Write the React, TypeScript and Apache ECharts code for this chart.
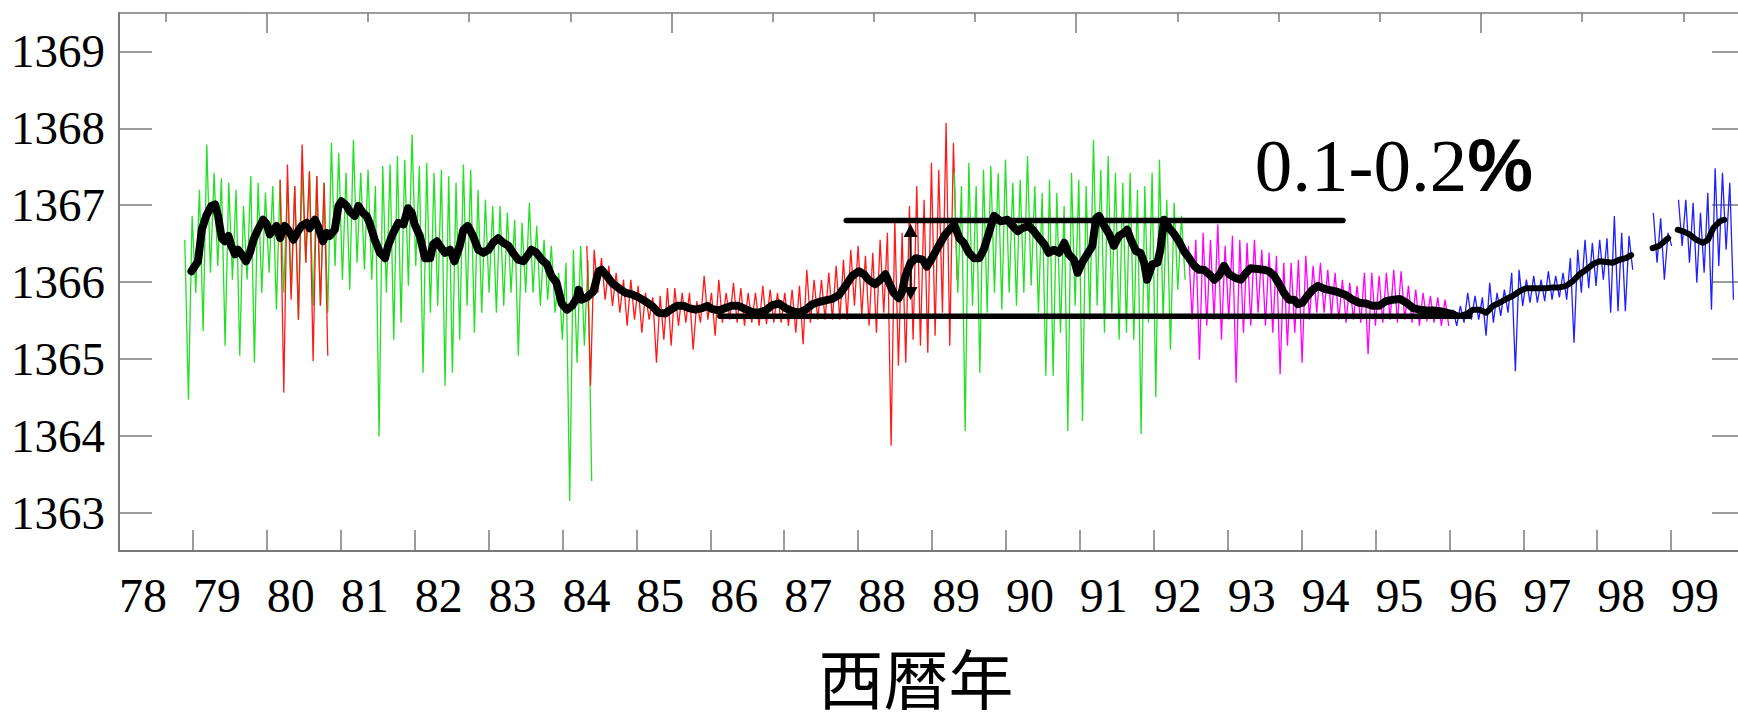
import React, { useEffect, useRef } from "react";
import * as echarts from "echarts";

// ---- axis categories / ticks ----
const YEAR_LABELS = [78, 79, 80, 81, 82, 83, 84, 85, 86, 87, 88, 89, 90, 91, 92, 93, 94, 95, 96, 97, 98, 99];
const Y_TICKS = [1363, 1364, 1365, 1366, 1367, 1368, 1369];
// top axis: days since 1980-01-01, every 500 days (long every 2000)
const TOP_TICK_DAYS_SHORT = [-500, 500, 1000, 1500, 2500, 3000, 3500, 4500, 5000, 5500, 6500, 7000];
const TOP_TICK_DAYS_LONG = [0, 2000, 4000, 6000];

// ---- daily irradiance samples (W/m^2), sampled every SAMPLE_STEP years as high/low pairs ----
const SAMPLE_STEP = 0.0496;

const green1Start = 78.89;
const green1 = [
  1366.55, 1364.47, 1366.86, 1365.86, 1367.20, 1365.36, 1367.79, 1366.12, 1367.42, 1366.21,
  1367.35, 1365.17, 1367.29, 1366.03, 1367.20, 1365.04, 1366.99, 1366.03, 1367.38, 1364.95,
  1367.29, 1365.86, 1367.16, 1366.12, 1367.25, 1365.64, 1367.33, 1365.86, 1367.29, 1365.86,
  1367.25, 1365.51, 1367.42, 1366.25, 1367.44, 1365.69, 1367.38, 1365.69, 1367.29, 1365.60,
  1367.81, 1366.21, 1367.68, 1366.03, 1367.42, 1365.90, 1367.85, 1366.25, 1367.42, 1366.16,
  1367.46, 1366.03, 1367.25, 1363.99, 1367.51, 1365.86, 1367.53, 1365.25, 1367.64, 1365.47,
  1367.59, 1365.95, 1367.92, 1366.21, 1367.51, 1364.82, 1367.55, 1365.60, 1367.42, 1365.69,
  1367.46, 1364.65, 1367.38, 1364.82, 1367.29, 1365.25, 1367.53, 1365.69, 1367.46, 1365.34,
  1367.20, 1365.60, 1367.07, 1365.86, 1366.99, 1365.60, 1366.99, 1365.69, 1366.90, 1365.86,
  1366.81, 1365.04, 1366.77, 1365.86, 1367.03, 1365.86, 1366.73, 1365.69, 1366.55, 1365.77,
  1366.47, 1365.60, 1366.12, 1365.25, 1366.25, 1363.15, 1366.42, 1364.95, 1366.47, 1365.17,
  1366.29, 1363.41,
];

const red1Start = 80.18;
const red1 = [
  1367.33, 1364.56, 1367.53, 1365.77, 1367.25, 1365.51, 1367.79, 1366.25, 1367.44, 1364.97,
  1367.38, 1365.69, 1367.29, 1365.04,
];

const red2Start = 84.33;
const red2 = [
  1366.47, 1364.65, 1366.42, 1365.86, 1366.31, 1365.77, 1366.21, 1365.69, 1366.12, 1365.60,
  1366.03, 1365.43, 1366.03, 1365.51, 1365.95, 1365.34, 1365.86, 1365.51, 1365.80, 1364.95,
  1365.82, 1365.25, 1365.92, 1365.17, 1365.92, 1365.43, 1365.86, 1365.47, 1365.86, 1365.12,
  1365.75, 1365.47, 1366.08, 1365.51, 1365.86, 1365.30, 1366.03, 1365.47, 1365.86, 1365.51,
  1365.99, 1365.47, 1365.92, 1365.43, 1365.86, 1365.47, 1365.86, 1365.43, 1365.95, 1365.45,
  1365.90, 1365.47, 1365.86, 1365.47, 1365.86, 1365.43, 1365.90, 1365.34, 1365.95, 1365.19,
  1366.16, 1365.47, 1366.03, 1365.51, 1366.03, 1365.51, 1366.12, 1365.51, 1366.21, 1365.51,
  1366.29, 1365.51, 1366.42, 1365.69, 1366.47, 1365.56, 1366.34, 1365.43, 1366.38, 1365.34,
  1366.55, 1365.60, 1366.64, 1363.87, 1366.81, 1364.91, 1366.64, 1364.95, 1366.99, 1365.25,
  1367.25, 1365.17, 1367.07, 1365.08, 1367.55, 1365.30, 1367.46, 1365.60, 1368.07, 1365.17,
  1367.81, 1366.03,
];

const green2Start = 89.30;
const green2 = [
  1367.42, 1365.86, 1367.25, 1364.06, 1367.55, 1365.69, 1367.25, 1364.82, 1367.46, 1365.60,
  1367.51, 1365.86, 1367.42, 1365.64, 1367.59, 1365.86, 1367.29, 1365.69, 1367.33, 1365.86,
  1367.64, 1365.95, 1367.25, 1365.60, 1367.16, 1364.78, 1367.33, 1364.78, 1367.16, 1365.34,
  1366.99, 1364.06, 1367.42, 1365.69, 1367.33, 1364.19, 1367.25, 1365.51, 1367.85, 1365.69,
  1367.46, 1365.34, 1367.64, 1365.60, 1367.42, 1365.25, 1367.29, 1365.34, 1367.42, 1365.25,
  1367.20, 1364.02, 1367.25, 1365.47, 1367.42, 1364.50, 1367.59, 1365.51, 1367.07, 1365.12,
  1367.03, 1365.90, 1366.86, 1366.03,
];

const magentaStart = 92.47;
const magenta = [
  1366.47, 1365.51, 1366.55, 1364.99, 1366.64, 1365.43, 1366.55, 1365.51, 1366.75, 1365.25,
  1366.47, 1365.51, 1366.60, 1364.69, 1366.55, 1365.34, 1366.51, 1365.43, 1366.55, 1365.60,
  1366.42, 1365.43, 1366.38, 1365.34, 1366.34, 1364.80, 1366.25, 1365.17, 1366.25, 1365.34,
  1366.29, 1364.95, 1366.34, 1365.51, 1366.21, 1365.60, 1366.25, 1365.60, 1366.16, 1365.56,
  1366.12, 1365.51, 1366.03, 1365.47, 1365.99, 1365.51, 1365.95, 1365.47, 1366.12, 1365.06,
  1366.12, 1365.43, 1366.08, 1365.47, 1366.12, 1365.51, 1366.16, 1365.47, 1366.14, 1365.51,
  1365.95, 1365.47, 1365.90, 1365.43, 1365.86, 1365.49, 1365.82, 1365.47, 1365.80, 1365.43,
  1365.77, 1365.43,
];

const blue1Start = 96.05;
const blue1 = [
  1365.64, 1365.43, 1365.69, 1365.47, 1365.86, 1365.51, 1365.82, 1365.51, 1365.80, 1365.30,
  1365.99, 1365.47, 1365.86, 1365.56, 1365.90, 1365.60, 1366.12, 1364.84, 1366.16, 1365.69,
  1366.03, 1365.73, 1366.08, 1365.73, 1366.03, 1365.75, 1366.14, 1365.77, 1366.08, 1365.80,
  1366.12, 1365.77, 1366.31, 1365.21, 1366.42, 1365.86, 1366.55, 1365.92, 1366.51, 1365.95,
  1366.55, 1366.03, 1366.57, 1365.60, 1366.86, 1365.62, 1366.64, 1365.62, 1366.60, 1366.16,
];
const blue2Start = 98.76;
const blue2 = [1366.90, 1366.25, 1366.83, 1366.03, 1366.64, 1366.47];
const blue3Start = 99.10;
const blue3 = [
  1367.07, 1366.47, 1367.07, 1366.25, 1367.03, 1365.99, 1366.90, 1366.12, 1367.16, 1365.64,
  1367.48, 1366.21, 1367.42, 1366.42, 1367.29, 1365.77,
];

// ---- 81-day running mean [year, W/m^2] ----
const meanA = [
  [78.98, 1366.14], [79.07, 1366.27], [79.12, 1366.68], [79.18, 1366.86], [79.25, 1366.99], [79.30, 1367.01],
  [79.34, 1366.86], [79.39, 1366.57], [79.43, 1366.53], [79.48, 1366.60], [79.52, 1366.47], [79.57, 1366.36],
  [79.61, 1366.42], [79.66, 1366.36], [79.72, 1366.27], [79.77, 1366.38], [79.82, 1366.55], [79.88, 1366.68],
  [79.95, 1366.81], [80.00, 1366.75], [80.04, 1366.62], [80.09, 1366.68], [80.13, 1366.73], [80.18, 1366.57],
  [80.24, 1366.73], [80.29, 1366.68], [80.36, 1366.55], [80.42, 1366.66], [80.47, 1366.73], [80.54, 1366.77],
  [80.58, 1366.70], [80.65, 1366.81], [80.69, 1366.73], [80.76, 1366.53], [80.81, 1366.64], [80.85, 1366.60],
  [80.92, 1366.68], [80.97, 1366.99], [81.01, 1367.05], [81.08, 1366.99], [81.12, 1366.92], [81.19, 1366.86],
  [81.24, 1366.99], [81.30, 1366.90], [81.35, 1366.86], [81.39, 1366.77], [81.46, 1366.55], [81.53, 1366.38],
  [81.60, 1366.31], [81.64, 1366.47], [81.71, 1366.64], [81.78, 1366.77], [81.85, 1366.75], [81.91, 1366.96],
  [81.96, 1366.90], [82.00, 1366.75], [82.07, 1366.60], [82.14, 1366.31], [82.21, 1366.31], [82.25, 1366.49],
  [82.30, 1366.53], [82.34, 1366.47], [82.41, 1366.38], [82.48, 1366.42], [82.54, 1366.27], [82.61, 1366.47],
  [82.66, 1366.68], [82.72, 1366.73], [82.79, 1366.60], [82.86, 1366.42], [82.93, 1366.38], [83.00, 1366.42],
  [83.06, 1366.51], [83.13, 1366.57], [83.20, 1366.51], [83.27, 1366.47], [83.33, 1366.38], [83.40, 1366.29],
  [83.47, 1366.27], [83.54, 1366.36], [83.58, 1366.42], [83.65, 1366.38], [83.72, 1366.29], [83.79, 1366.23],
  [83.85, 1366.08], [83.92, 1365.99], [83.99, 1365.72], [84.06, 1365.64], [84.13, 1365.69], [84.20, 1365.80],
  [84.22, 1365.90], [84.26, 1365.77], [84.33, 1365.80], [84.42, 1365.88], [84.49, 1366.14], [84.53, 1366.16],
  [84.60, 1366.08], [84.67, 1365.99], [84.76, 1365.92], [84.85, 1365.86], [84.94, 1365.84], [85.03, 1365.80],
  [85.12, 1365.75], [85.21, 1365.69], [85.30, 1365.60], [85.39, 1365.59], [85.46, 1365.64], [85.55, 1365.69],
  [85.64, 1365.69], [85.71, 1365.66], [85.80, 1365.64], [85.89, 1365.66], [85.96, 1365.69], [86.02, 1365.65],
  [86.11, 1365.63], [86.20, 1365.66], [86.29, 1365.69], [86.38, 1365.69], [86.47, 1365.65], [86.56, 1365.61],
  [86.65, 1365.60], [86.75, 1365.63], [86.84, 1365.70], [86.93, 1365.72], [87.02, 1365.66], [87.11, 1365.62],
  [87.20, 1365.60], [87.29, 1365.64], [87.38, 1365.71], [87.47, 1365.74], [87.56, 1365.76], [87.65, 1365.78],
  [87.74, 1365.83], [87.83, 1365.95], [87.92, 1366.08], [88.01, 1366.14], [88.08, 1366.10], [88.14, 1366.03],
  [88.23, 1365.97], [88.30, 1366.03], [88.37, 1366.10], [88.41, 1366.01], [88.48, 1365.86], [88.55, 1365.79],
  [88.59, 1365.86], [88.64, 1366.08], [88.71, 1366.25], [88.78, 1366.31], [88.87, 1366.29], [88.93, 1366.20],
  [89.00, 1366.31], [89.09, 1366.47], [89.18, 1366.62], [89.30, 1366.75], [89.37, 1366.57], [89.43, 1366.51],
  [89.50, 1366.38], [89.57, 1366.31], [89.64, 1366.31], [89.70, 1366.42], [89.77, 1366.64], [89.84, 1366.86],
  [89.93, 1366.79], [90.02, 1366.81], [90.09, 1366.73], [90.16, 1366.66], [90.22, 1366.70], [90.31, 1366.73],
  [90.38, 1366.66], [90.45, 1366.57], [90.52, 1366.49], [90.58, 1366.38], [90.65, 1366.42], [90.72, 1366.38],
  [90.79, 1366.51], [90.85, 1366.36], [90.92, 1366.29], [90.97, 1366.12], [91.03, 1366.25], [91.10, 1366.36],
  [91.17, 1366.47], [91.22, 1366.83], [91.26, 1366.86], [91.33, 1366.73], [91.40, 1366.62], [91.46, 1366.47],
  [91.53, 1366.60], [91.60, 1366.64], [91.64, 1366.68], [91.69, 1366.55], [91.76, 1366.40], [91.82, 1366.38],
  [91.87, 1366.25], [91.91, 1366.03], [91.98, 1366.23], [92.05, 1366.25], [92.09, 1366.42], [92.14, 1366.81],
  [92.21, 1366.70], [92.28, 1366.62], [92.34, 1366.53], [92.41, 1366.40], [92.48, 1366.31], [92.55, 1366.21],
  [92.61, 1366.16], [92.68, 1366.16], [92.75, 1366.10], [92.82, 1366.03], [92.88, 1366.08], [92.95, 1366.21],
  [93.02, 1366.10], [93.11, 1366.05], [93.18, 1366.03], [93.25, 1366.12], [93.31, 1366.18], [93.40, 1366.17],
  [93.49, 1366.16], [93.56, 1366.14], [93.63, 1366.08], [93.70, 1365.97], [93.76, 1365.86], [93.83, 1365.77],
  [93.90, 1365.77], [93.95, 1365.71], [94.01, 1365.73], [94.08, 1365.82], [94.15, 1365.90], [94.22, 1365.95],
  [94.31, 1365.91], [94.40, 1365.89], [94.49, 1365.87], [94.60, 1365.83], [94.69, 1365.77], [94.78, 1365.73],
  [94.87, 1365.72], [94.96, 1365.69], [95.05, 1365.69], [95.14, 1365.75], [95.24, 1365.77], [95.33, 1365.78],
  [95.42, 1365.73], [95.51, 1365.66], [95.60, 1365.64], [95.69, 1365.63], [95.78, 1365.63], [95.87, 1365.62],
  [95.96, 1365.60], [96.05, 1365.58],
];
const meanB1 = [
  [96.05, 1365.58], [96.14, 1365.56], [96.23, 1365.58], [96.32, 1365.64], [96.41, 1365.64], [96.50, 1365.60],
  [96.59, 1365.69], [96.68, 1365.73], [96.77, 1365.78], [96.86, 1365.82], [96.95, 1365.88], [97.04, 1365.92],
  [97.13, 1365.92], [97.22, 1365.92], [97.31, 1365.92], [97.40, 1365.93], [97.49, 1365.93], [97.58, 1365.95],
  [97.67, 1366.01], [97.76, 1366.10], [97.85, 1366.16], [97.94, 1366.23], [98.03, 1366.27], [98.12, 1366.26],
  [98.21, 1366.25], [98.30, 1366.29], [98.39, 1366.31], [98.46, 1366.35],
];
const meanB2 = [[98.75, 1366.44], [98.84, 1366.47], [98.91, 1366.53], [98.96, 1366.57]];
const meanB3 = [
  [99.09, 1366.68], [99.16, 1366.66], [99.25, 1366.62], [99.34, 1366.55], [99.43, 1366.51], [99.50, 1366.55],
  [99.57, 1366.70], [99.66, 1366.79], [99.72, 1366.81],
];

// ---- annotation lines ----
const upperLevel = [[87.84, 1366.80], [94.56, 1366.80]];
const lowerLevel = [[86.13, 1365.555], [96.27, 1365.555]];
const arrowEnds = [[88.71, 1366.67], [88.71, 1365.85]];
const annotationText = "0.1-0.2";
const annotationPos = [95.25, 1367.51];
const xAxisTitle = "西暦年";

const GREEN = "#22e022";
const RED = "#ff1a1a";
const MAGENTA = "#ff00ff";
const BLUE = "#1f1fff";
const AXIS_GREY = "#7a7a7a";
const SERIF = '"Liberation Serif", "Times New Roman", serif';

const sampled = (start: number, vals: number[]) =>
  vals.map((v, i) => [Number((start + i * SAMPLE_STEP).toFixed(4)), v]);

const dayToYear = (d: number) => 80 + d / 365.25;

export default function App() {
  const ref = useRef<HTMLDivElement>(null);
  useEffect(() => {
    if (!ref.current) return;
    const chart = echarts.init(ref.current, undefined, { renderer: "svg" });
    const noise = (name: string, color: string, data: number[][]) => ({
      name,
      type: "line",
      data,
      symbol: "none",
      silent: true,
      lineStyle: { color, width: 1.3 },
      z: 2,
    });
    const black = (name: string, data: number[][], width: number) => ({
      name,
      type: "line",
      data,
      symbol: "none",
      silent: true,
      lineStyle: { color: "#000", width, join: "round", cap: "round" },
      z: 4,
    });
    const option: any = {
      animation: false,
      backgroundColor: "#fff",
      grid: { left: 119, top: 13, right: 15, bottom: 171, containLabel: false, outerBoundsMode: "none" },
      xAxis: [
        {
          type: "value",
          min: 78,
          max: 100,
          position: "bottom",
          axisLine: { show: true, lineStyle: { color: AXIS_GREY, width: 2 } },
          axisTick: { show: true, inside: true, length: 21, customValues: YEAR_LABELS, lineStyle: { color: AXIS_GREY, width: 1.5 } },
          axisLabel: {
            show: true,
            customValues: YEAR_LABELS,
            align: "left",
            margin: 20,
            fontSize: 48,
            fontFamily: SERIF,
            color: "#000",
            formatter: (v: number) => String(v),
          },
          splitLine: { show: false },
          name: xAxisTitle,
          nameLocation: "middle",
          nameGap: 92,
          nameTextStyle: {
            fontSize: 65,
            lineHeight: 65,
            fontFamily: '"Noto Sans CJK JP", sans-serif',
            color: "#000",
            padding: [0, 32, 0, 0],
          },
        },
        {
          type: "value",
          min: 78,
          max: 100,
          position: "top",
          axisLine: { show: true, lineStyle: { color: AXIS_GREY, width: 1.5 } },
          axisTick: { show: true, inside: true, length: 9, customValues: TOP_TICK_DAYS_SHORT.map(dayToYear), lineStyle: { color: AXIS_GREY, width: 1.5 } },
          axisLabel: { show: false },
          splitLine: { show: false },
        },
        {
          type: "value",
          min: 78,
          max: 100,
          position: "top",
          axisLine: { show: false },
          axisTick: { show: true, inside: true, length: 20, customValues: TOP_TICK_DAYS_LONG.map(dayToYear), lineStyle: { color: AXIS_GREY, width: 1.5 } },
          axisLabel: { show: false },
          splitLine: { show: false },
        },
      ],
      yAxis: [
        {
          type: "value",
          min: 1362.5,
          max: 1369.5,
          position: "left",
          axisLine: { show: true, lineStyle: { color: AXIS_GREY, width: 2 } },
          axisTick: { show: true, inside: true, length: 33, customValues: Y_TICKS, lineStyle: { color: AXIS_GREY, width: 1.5 } },
          axisLabel: {
            show: true,
            customValues: Y_TICKS,
            margin: 14,
            fontSize: 47,
            fontFamily: SERIF,
            color: "#000",
            formatter: (v: number) => String(v),
          },
          splitLine: { show: false },
        },
        {
          type: "value",
          min: 1362.5,
          max: 1369.5,
          position: "right",
          axisLine: { show: true, lineStyle: { color: AXIS_GREY, width: 2 } },
          axisTick: { show: true, inside: true, length: 33, customValues: Y_TICKS, lineStyle: { color: AXIS_GREY, width: 1.5 } },
          axisLabel: { show: false },
          splitLine: { show: false },
        },
      ],
      series: [
        noise("green1", GREEN, sampled(green1Start, green1)),
        noise("red1", RED, sampled(red1Start, red1)),
        noise("red2", RED, sampled(red2Start, red2)),
        noise("green2", GREEN, sampled(green2Start, green2)),
        noise("magenta", MAGENTA, sampled(magentaStart, magenta)),
        noise("blue1", BLUE, sampled(blue1Start, blue1)),
        noise("blue2", BLUE, sampled(blue2Start, blue2)),
        noise("blue3", BLUE, sampled(blue3Start, blue3)),
        black("upper", upperLevel, 5.5),
        black("lower", lowerLevel, 5.5),
        black("meanA", meanA, 8),
        black("meanB1", meanB1, 6),
        black("meanB2", meanB2, 6),
        black("meanB3", meanB3, 6),
        {
          name: "arrow",
          type: "line",
          silent: true,
          data: [
            { value: arrowEnds[0], symbolRotate: 0 },
            { value: arrowEnds[1], symbolRotate: 180 },
          ],
          symbol: "triangle",
          symbolSize: [14, 13],
          showSymbol: true,
          itemStyle: { color: "#000" },
          lineStyle: { color: "#000", width: 2 },
          z: 5,
        },
        {
          name: "note",
          type: "scatter",
          silent: true,
          data: [annotationPos],
          symbolSize: 0,
          itemStyle: { color: "#000", opacity: 1 },
          label: {
            show: true,
            position: "inside",
            color: "#000",
            opacity: 1,
            formatter: () => `{a|${annotationText}}{b|%}`,
            rich: {
              a: { fontFamily: SERIF, fontSize: 75, color: "#000" },
              b: { fontFamily: '"Liberation Sans", Arial, sans-serif', fontWeight: "bold", fontSize: 74, color: "#000" },
            },
          },
          emphasis: { disabled: true },
          z: 6,
        },
      ],
    };
    chart.setOption(option);
    return () => chart.dispose();
  }, []);
  return (
    <div style={{ position: "fixed", left: 0, top: 0, width: 1738, height: 722, overflow: "hidden", background: "#fff" }}>
      <div ref={ref} style={{ width: 1760, height: 722 }} />
    </div>
  );
}
